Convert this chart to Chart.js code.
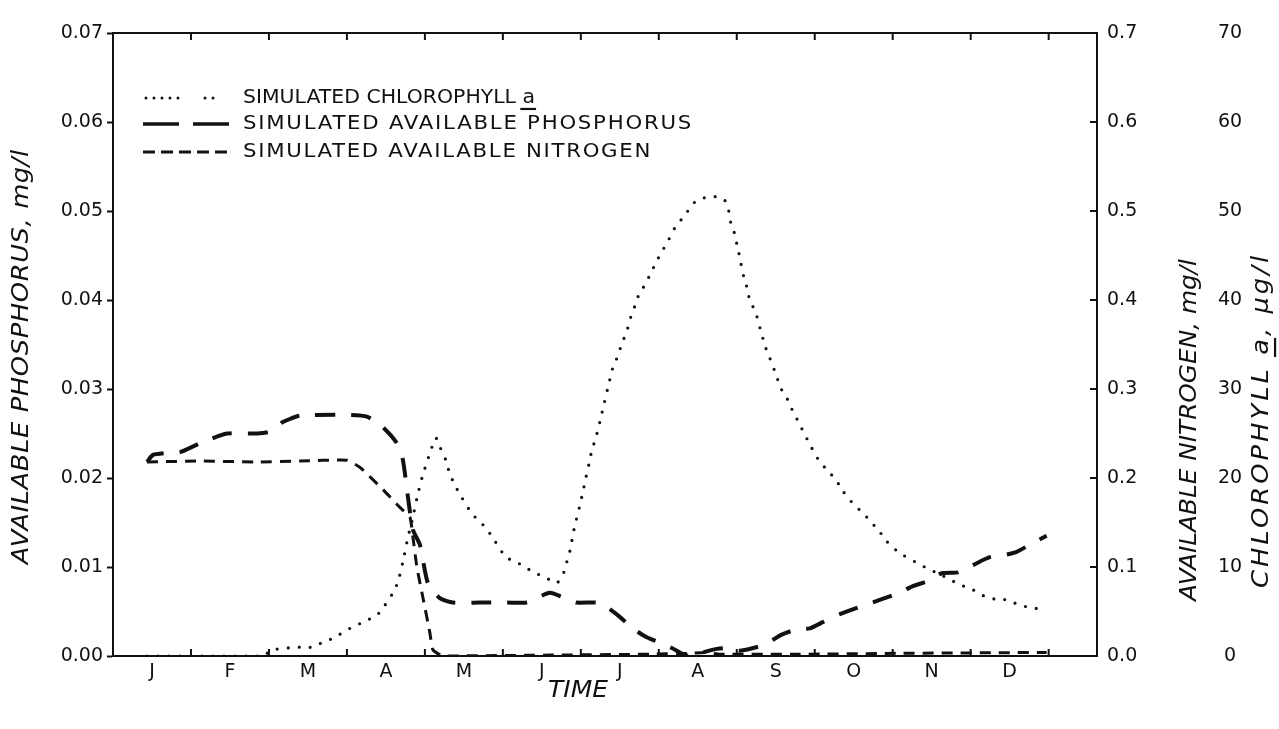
<!DOCTYPE html>
<html><head><meta charset="utf-8">
<script src="https://cdn.jsdelivr.net/npm/chart.js@4.4.1/dist/chart.umd.min.js"></script>
<style>html,body{margin:0;padding:0;background:#fff}canvas{display:block}</style>
</head><body>
<canvas id="c" width="1279" height="729"></canvas>
<script>
// ---------- data ----------
const monthLabels = ['J','F','M','A','M','J','J','A','S','O','N','D'];
const monthCenters = [0.5,1.5,2.5,3.5,4.5,5.5,6.5,7.5,8.5,9.5,10.5,11.5];
const monthBounds = [1,2,3,4,5,6,7,8,9,10,11,12];

const phosTickValues = [0,0.01,0.02,0.03,0.04,0.05,0.06,0.07];
const phosTickLabels = ['0.00','0.01','0.02','0.03','0.04','0.05','0.06','0.07'];
const nitroTickValues = [0,0.1,0.2,0.3,0.4,0.5,0.6,0.7];
const nitroTickLabels = ['0.0','0.1','0.2','0.3','0.4','0.5','0.6','0.7'];
const chlTickValues = [0,10,20,30,40,50,60,70];
const chlTickLabels = ['0','10','20','30','40','50','60','70'];

// time in months from Jan 1
const phosMonth = [0.436,0.513,0.667,0.859,1.115,1.462,1.846,2.013,2.179,2.397,3.0,3.256,3.462,3.641,3.718,3.782,3.846,3.936,4.038,4.192,4.359,4.705,5.051,5.308,5.410,5.603,5.769,5.949,6.205,6.333,6.5,6.667,6.846,7.013,7.167,7.333,7.462,7.526,7.744,7.872,8.038,8.333,8.577,8.769,8.936,9.103,9.321,9.833,10.09,10.244,10.474,10.628,10.833,11.026,11.244,11.410,11.590,11.756,11.974];
const phosValue = [0.0218,0.0226,0.0228,0.0229,0.0239,0.0250,0.0250,0.0252,0.0263,0.0270,0.0271,0.0269,0.0257,0.0239,0.0220,0.0179,0.0142,0.0125,0.0082,0.0065,0.0060,0.0060,0.0060,0.0060,0.0064,0.0071,0.0066,0.0060,0.0060,0.0055,0.0044,0.0031,0.0021,0.0015,0.0009,0.0001,0.0000,0.0003,0.0008,0.0009,0.0006,0.0012,0.0024,0.0030,0.0031,0.0038,0.0047,0.0063,0.0071,0.0078,0.0085,0.0093,0.0094,0.0102,0.0111,0.0113,0.0117,0.0125,0.0135];

const nitroMonth = [0.436,1.115,1.885,2.397,3.0,3.167,3.462,3.679,3.808,3.846,3.897,3.974,4.064,4.103,4.231,5.603,6.885,7.397,7.590,7.782,8.808,10.09,11.974];
const nitroValue = [0.218,0.219,0.218,0.219,0.220,0.212,0.187,0.167,0.156,0.134,0.100,0.066,0.026,0.007,0.000,0.001,0.002,0.003,0.004,0.002,0.002,0.003,0.004];

const chlMonth = [0.436,1.115,1.91,2.05,2.397,2.564,2.679,2.821,3.038,3.205,3.385,3.487,3.577,3.654,3.718,3.782,3.846,3.897,3.962,4.064,4.141,4.192,4.269,4.308,4.372,4.474,4.603,4.782,4.885,5.038,5.167,5.282,5.397,5.551,5.692,5.782,5.833,5.872,5.897,5.936,5.987,6.026,6.064,6.103,6.141,6.192,6.244,6.41,6.474,6.526,6.59,6.641,6.692,6.744,6.821,6.897,6.974,7.051,7.128,7.205,7.295,7.372,7.462,7.59,7.731,7.846,7.897,7.923,7.974,8.0,8.026,8.051,8.09,8.128,8.154,8.205,8.256,8.321,8.372,8.423,8.5,8.564,8.641,8.692,8.756,8.936,9.051,9.128,9.231,9.308,9.372,9.474,9.577,9.679,9.769,9.846,9.923,10.013,10.141,10.282,10.41,10.551,10.692,10.821,10.949,11.064,11.179,11.308,11.474,11.603,11.782,11.923];
const chlValue = [0,0,0,0.7,1.0,1.0,1.5,2.0,3.1,3.8,4.6,5.7,6.9,8.3,10.6,13.3,15.6,17.7,20.0,22.8,24.5,23.5,22.0,20.8,19.4,17.8,16.0,14.4,13.1,11.1,10.6,10.0,9.4,8.8,8.2,9.4,11.0,12.2,13.6,15.1,16.9,18.4,20.0,21.5,23.1,24.5,26.3,32.4,33.7,35.1,36.5,38.1,39.3,40.6,41.7,43.0,44.4,45.6,46.8,48.1,49.1,50.0,51.0,51.5,51.6,51.2,50.0,48.7,47.4,46.3,45.3,44.2,42.6,41.5,40.4,39.3,38.2,36.1,34.6,33.5,31.7,30.1,29.0,28.0,26.9,23.8,22.0,21.2,20.2,19.3,18.4,17.3,16.4,15.5,14.6,13.8,12.9,12.1,11.3,10.6,10.0,9.4,8.8,8.2,7.7,7.3,6.7,6.4,6.3,5.8,5.4,5.3];

const seriesNames = ['SIMULATED CHLOROPHYLL a','SIMULATED AVAILABLE PHOSPHORUS','SIMULATED AVAILABLE NITROGEN'];
const axisTitles = {x:'TIME', p:'AVAILABLE PHOSPHORUS, mg/l', n:'AVAILABLE NITROGEN, mg/l', c:'CHLOROPHYLL a, \u00b5g/l'};

// ---------- helpers ----------
const INK = '#111';
const pts = (xs, ys) => xs.map((x, i) => ({x: x, y: ys[i]}));

// draws text so it spans targetW: part horizontal stretch, part letter spacing
function drawText(ctx, text, x, y, rot, targetW, font, centered, underlineIdx) {
  ctx.save();
  ctx.font = font;
  ctx.letterSpacing = '0px';
  const w0 = ctx.measureText(text).width;
  const n = [...text].length;
  const f = Math.max(0.9, Math.min(1.12, targetW / w0));
  const ls = (targetW / f - w0) / n;
  ctx.letterSpacing = ls.toFixed(2) + 'px';
  const W = ctx.measureText(text).width - ls;
  ctx.translate(x, y);
  ctx.rotate(rot);
  ctx.scale(f, 1);
  const x0 = centered ? -W / 2 : 0;
  ctx.fillStyle = INK;
  ctx.textAlign = 'left';
  ctx.textBaseline = 'middle';
  ctx.fillText(text, x0, 0);
  if (underlineIdx != null) {
    const pre = ctx.measureText(text.slice(0, underlineIdx)).width;
    const cw = ctx.measureText(text.charAt(underlineIdx)).width - ls;
    const size = parseFloat(font.match(/(\d+)px/)[1]);
    ctx.fillRect(x0 + pre - 2, size * 0.52, cw + 3, 2.2);
  }
  ctx.restore();
}

const decorPlugin = {
  id: 'decor',
  afterDraw(chart) {
    const ctx = chart.ctx;
    const a = chart.chartArea;
    const xs = chart.scales.x, yN = chart.scales.yN;
    ctx.save();
    ctx.strokeStyle = INK;
    ctx.lineWidth = 2;
    ctx.beginPath(); ctx.moveTo(a.left - 1, a.top); ctx.lineTo(a.right + 1, a.top); ctx.stroke();
    ctx.beginPath();
    monthBounds.forEach(m => {
      const px = xs.getPixelForValue(m);
      ctx.moveTo(px, a.bottom); ctx.lineTo(px, a.bottom - 7);
      ctx.moveTo(px, a.top); ctx.lineTo(px, a.top + 7);
    });
    nitroTickValues.slice(1, -1).forEach(v => {
      const py = yN.getPixelForValue(v);
      ctx.moveTo(a.right, py); ctx.lineTo(a.right - 7, py);
    });
    ctx.stroke();

    // legend symbols
    const rows = [98, 124, 152];
    const symL = a.left + 30;
    ctx.lineWidth = 3;
    ctx.lineCap = 'round';
    ctx.setLineDash([0, 8]);
    ctx.beginPath(); ctx.moveTo(symL + 3, rows[0]); ctx.lineTo(symL + 36, rows[0]);
    ctx.moveTo(symL + 62, rows[0]); ctx.lineTo(symL + 71, rows[0]); ctx.stroke();
    ctx.lineCap = 'butt';
    ctx.setLineDash([]);
    ctx.lineWidth = 3.5;
    ctx.beginPath(); ctx.moveTo(symL, rows[1]); ctx.lineTo(symL + 36, rows[1]);
    ctx.moveTo(symL + 50, rows[1]); ctx.lineTo(symL + 86, rows[1]); ctx.stroke();
    ctx.lineWidth = 3;
    ctx.setLineDash([12, 6]);
    ctx.beginPath(); ctx.moveTo(symL, rows[2]); ctx.lineTo(symL + 86, rows[2]); ctx.stroke();
    ctx.restore();

    const lf = '19px "DejaVu Sans"';
    drawText(ctx, seriesNames[0], a.left + 130, rows[0], 0, 292, lf, false, seriesNames[0].length - 1);
    drawText(ctx, seriesNames[1], a.left + 130, rows[1], 0, 450, lf, false);
    drawText(ctx, seriesNames[2], a.left + 130, rows[2], 0, 409, lf, false);

    const tf = 'italic 23px "DejaVu Sans"';
    drawText(ctx, axisTitles.x, 578, 691, 0, 60, tf, true);
    drawText(ctx, axisTitles.p, 22, 357, -Math.PI / 2, 415, tf, true);
    drawText(ctx, axisTitles.n, 1190, 430, -Math.PI / 2, 342, tf, true);
    drawText(ctx, axisTitles.c, 1262, 422, -Math.PI / 2, 335, tf, true, 12);
  }
};

const tickFont = {family: '"DejaVu Sans"', size: 19};
const tickCb = labels => (v, i) => labels[i];

new Chart(document.getElementById('c'), {
  type: 'line',
  data: {
    datasets: [
      {label: seriesNames[1], data: pts(phosMonth, phosValue), yAxisID: 'yP',
       borderColor: INK, borderWidth: 4, borderDash: [20, 16], borderCapStyle: 'butt',
       pointRadius: 0, tension: 0.2, fill: false},
      {label: seriesNames[2], data: pts(nitroMonth, nitroValue), yAxisID: 'yN',
       borderColor: INK, borderWidth: 3, borderDash: [11, 8], borderCapStyle: 'butt',
       pointRadius: 0, tension: 0.15, fill: false},
      {label: seriesNames[0], data: pts(chlMonth, chlValue), yAxisID: 'yC',
       borderColor: INK, borderWidth: 3.2, borderDash: [0, 11], borderCapStyle: 'round',
       pointRadius: 0, tension: 0.2, fill: false}
    ]
  },
  options: {
    responsive: false,
    animation: false,
    devicePixelRatio: 1,
    layout: {padding: {top: 33, left: 0, right: 0, bottom: 0}},
    plugins: {legend: {display: false}, tooltip: {enabled: false}},
    scales: {
      x: {
        type: 'linear', min: 0, max: 12.62, position: 'bottom',
        afterBuildTicks: s => { s.ticks = monthCenters.map(v => ({value: v})); },
        afterFit: s => { s.height = 73; },
        ticks: {autoSkip: false, maxRotation: 0, padding: 5, color: INK, font: tickFont,
                callback: tickCb(monthLabels)},
        grid: {display: false, drawTicks: false},
        border: {display: true, color: INK, width: 2}
      },
      yP: {
        type: 'linear', position: 'left', min: 0, max: 0.07,
        afterBuildTicks: s => { s.ticks = phosTickValues.map(v => ({value: v})); },
        afterFit: s => { s.width = 113; },
        ticks: {padding: 4, color: INK, font: tickFont, callback: tickCb(phosTickLabels)},
        grid: {drawOnChartArea: false, tickLength: 6, tickWidth: 2, tickColor: INK},
        border: {display: true, color: INK, width: 2}
      },
      yN: {
        type: 'linear', position: 'right', min: 0, max: 0.7,
        afterBuildTicks: s => { s.ticks = nitroTickValues.map(v => ({value: v})); },
        afterFit: s => { s.width = 110; },
        ticks: {padding: 10, color: INK, font: tickFont, callback: tickCb(nitroTickLabels)},
        grid: {drawOnChartArea: false, drawTicks: false},
        border: {display: true, color: INK, width: 2}
      },
      yC: {
        type: 'linear', position: 'right', min: 0, max: 70,
        afterBuildTicks: s => { s.ticks = chlTickValues.map(v => ({value: v})); },
        afterFit: s => { s.width = 72; },
        ticks: {padding: 11, crossAlign: 'center', color: INK, font: tickFont,
                callback: tickCb(chlTickLabels)},
        grid: {display: false, drawTicks: false},
        border: {display: false}
      }
    }
  },
  plugins: [decorPlugin]
});
</script>
</body></html>
